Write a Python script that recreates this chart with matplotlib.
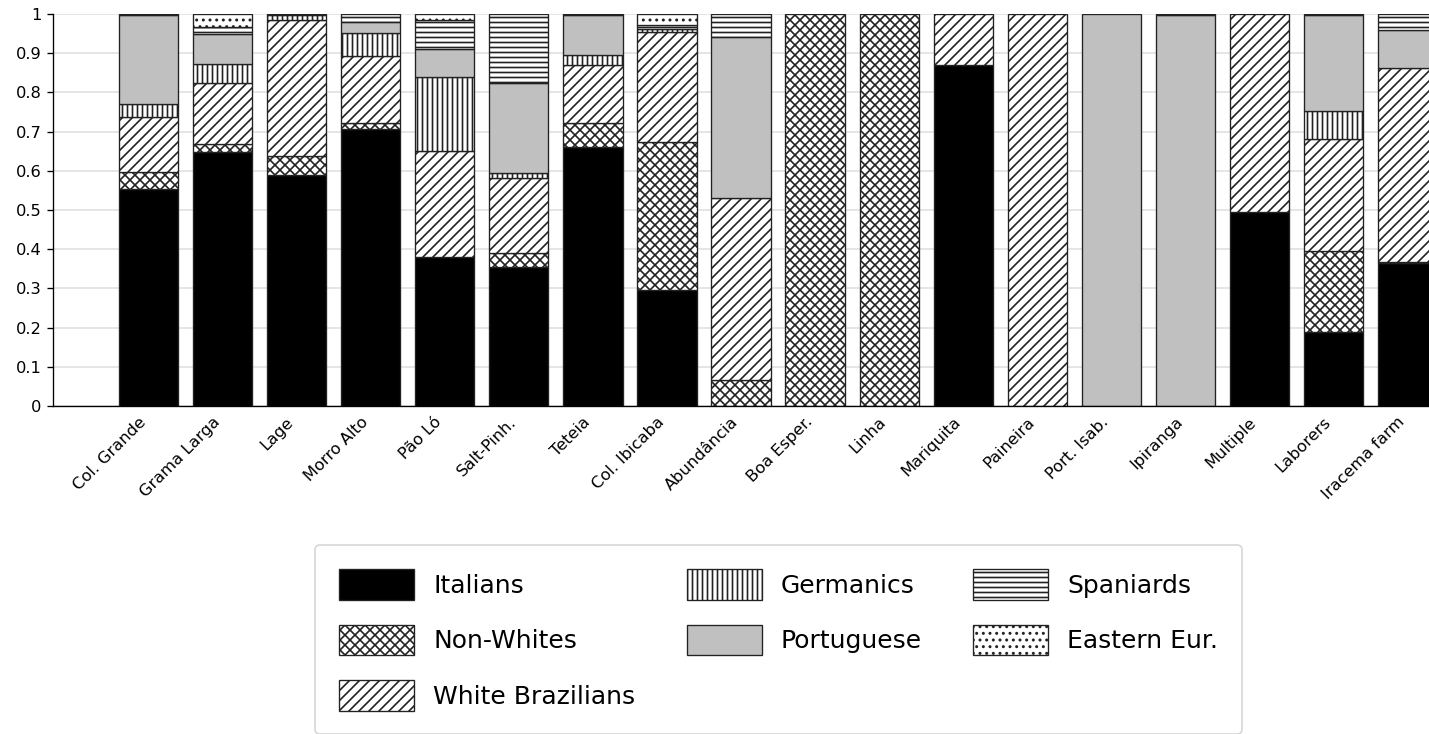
import numpy as np
import matplotlib
matplotlib.use("Agg")
import matplotlib.pyplot as plt

# Settlements / groups along the x axis
places = ["Col. Grande", "Grama Larga", "Lage", "Morro Alto", "Pão Ló",
          "Salt-Pinh.", "Teteia", "Col. Ibicaba", "Abundância", "Boa Esper.",
          "Linha", "Mariquita", "Paineira", "Port. Isab.", "Ipiranga",
          "Multiple", "Laborers", "Iracema farm"]

# Share of each origin group per place (stacked bottom to top)
italians = [0.554, 0.649, 0.589, 0.706, 0.381, 0.355, 0.661, 0.296, 0.0,
            0.0, 0.0, 0.870, 0.0, 0.0, 0.0, 0.496, 0.190, 0.364]
non_whites = [0.044, 0.019, 0.049, 0.015, 0.0, 0.035, 0.060, 0.378, 0.066,
              1.0, 1.0, 0.0, 0.0, 0.0, 0.0, 0.0, 0.206, 0.004]
white_brazilians = [0.138, 0.157, 0.347, 0.172, 0.270, 0.191, 0.149, 0.281,
                    0.465, 0.0, 0.0, 0.130, 1.0, 0.0, 0.0, 0.504, 0.284, 0.495]
germanics = [0.034, 0.047, 0.012, 0.059, 0.189, 0.014, 0.025, 0.008, 0.0,
             0.0, 0.0, 0.0, 0.0, 0.0, 0.0, 0.0, 0.073, 0.0]
portuguese = [0.227, 0.076, 0.0, 0.028, 0.070, 0.228, 0.102, 0.0, 0.411,
              0.0, 0.0, 0.0, 0.0, 1.0, 0.997, 0.0, 0.244, 0.096]
spaniards = [0.003, 0.020, 0.003, 0.020, 0.075, 0.177, 0.003, 0.009, 0.058,
             0.0, 0.0, 0.0, 0.0, 0.0, 0.003, 0.0, 0.003, 0.041]
eastern_eur = [0.0, 0.032, 0.0, 0.0, 0.015, 0.0, 0.0, 0.028, 0.0,
               0.0, 0.0, 0.0, 0.0, 0.0, 0.0, 0.0, 0.0, 0.0]

series_names = ["Italians", "Non-Whites", "White Brazilians", "Germanics",
                "Portuguese", "Spaniards", "Eastern Eur."]
series_values = [italians, non_whites, white_brazilians, germanics,
                 portuguese, spaniards, eastern_eur]
series_faces = ["black", "white", "white", "white", "#c0c0c0", "white", "white"]
series_hatches = [None, "xxxx", "////", "||||", None, "----", "..."]

W, H, DPI = 1429, 734, 120
fig = plt.figure(figsize=(W / DPI, H / DPI), dpi=DPI)

x0, x1 = -1.29, 17.6
unit_px = 74.06
ax = fig.add_axes([53 / W, 328 / H, (x1 - x0) * unit_px / W, 392 / H])

x = np.arange(len(places))
bottom = np.zeros(len(places))
handles = []
for name, vals, fc, hatch in zip(series_names, series_values,
                                 series_faces, series_hatches):
    vals = np.asarray(vals, dtype=float)
    keep = vals > 0
    bars = ax.bar(x[keep], vals[keep], 0.8, bottom=bottom[keep],
                  color=fc, hatch=hatch, edgecolor="#222222",
                  linewidth=0.8, zorder=2, label=name)
    handles.append(bars)
    bottom += vals

ax.set_xlim(x0, x1)
ax.set_ylim(0, 1)
yt = np.round(np.arange(0, 1.01, 0.1), 1)
ax.set_yticks(yt)
ax.set_yticklabels([f"{v:g}" for v in yt], fontsize=9.75)
ax.set_xticks(x)
ax.set_xticklabels(places, rotation=45, ha="right", fontsize=9.75)
ax.tick_params(axis="x", length=0, pad=5)

ax.yaxis.grid(True, color="#e0e0e0", linewidth=1.0)
ax.set_axisbelow(True)
for side in ("top", "right"):
    ax.spines[side].set_visible(False)

fig.legend(handles, series_names, ncol=3, loc="upper center",
           bbox_to_anchor=(0.5448, 0.274), fontsize=15,
           handlelength=3.0, handleheight=1.5, handletextpad=0.76,
           columnspacing=2.05, labelspacing=1.0, borderpad=0.95)

fig.savefig("out.png", dpi=DPI)
